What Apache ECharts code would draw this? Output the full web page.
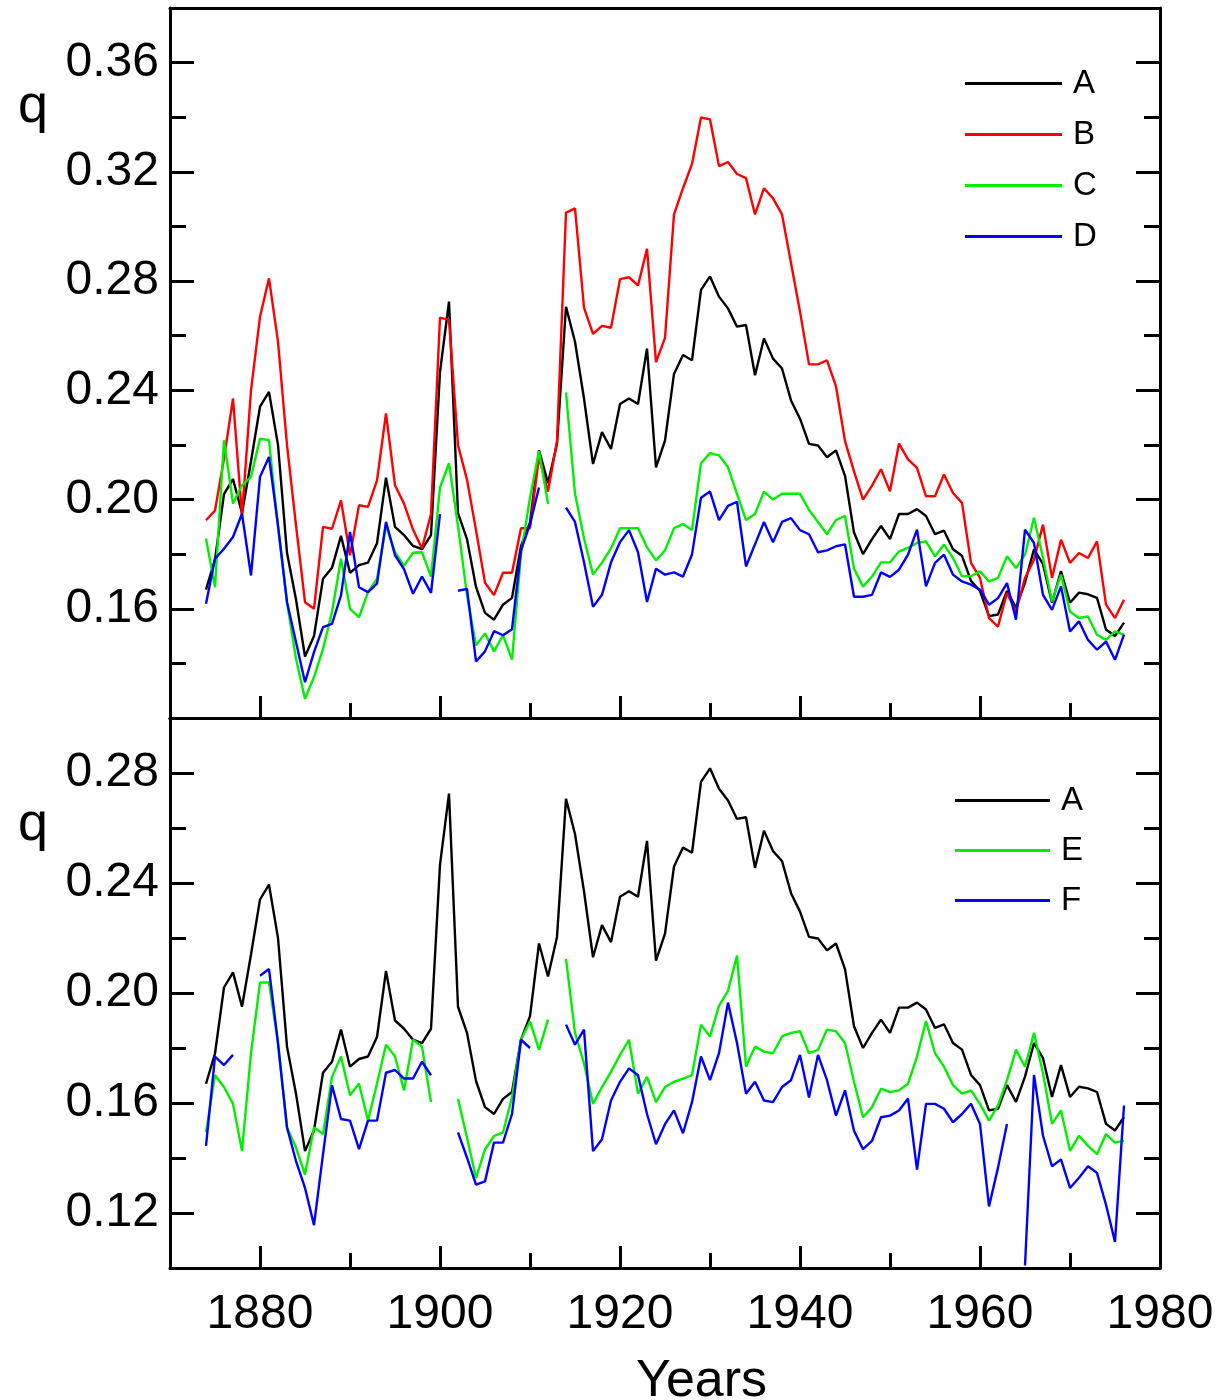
<!DOCTYPE html>
<html>
<head>
<meta charset="utf-8">
<script src="https://cdn.jsdelivr.net/npm/echarts@6/dist/echarts.min.js"></script>
<style>
  html, body { margin: 0; padding: 0; background: #fff; }
  #chart { width: 1218px; height: 1400px; }
</style>
</head>
<body>
<div id="chart"></div>
<script>
// Yearly observations, 1874 - 1976
const years = [
  1874,1875,1876,1877,1878,1879,1880,1881,1882,1883,1884,1885,1886,1887,1888,1889,
  1890,1891,1892,1893,1894,1895,1896,1897,1898,1899,1900,1901,1902,1903,1904,1905,
  1906,1907,1908,1909,1910,1911,1912,1913,1914,1915,1916,1917,1918,1919,1920,1921,
  1922,1923,1924,1925,1926,1927,1928,1929,1930,1931,1932,1933,1934,1935,1936,1937,
  1938,1939,1940,1941,1942,1943,1944,1945,1946,1947,1948,1949,1950,1951,1952,1953,
  1954,1955,1956,1957,1958,1959,1960,1961,1962,1963,1964,1965,1966,1967,1968,1969,
  1970,1971,1972,1973,1974,1975,1976
];

// q values per series (null = no data for that year)
const seriesA = [
  0.167,0.178,0.202,0.2075,0.195,0.214,0.234,0.2394,0.22,0.1805,0.1634,0.1425,0.150,0.171,0.175,0.1867,
  0.1732,0.176,0.1769,0.184,0.208,0.190,0.187,0.183,0.1818,0.187,0.2467,0.2725,0.195,0.1855,0.168,0.1585,
  0.156,0.1615,0.164,0.183,0.1916,0.218,0.206,0.2204,0.2706,0.2578,0.237,0.213,0.2247,0.2185,0.235,0.237,
  0.235,0.2553,0.2118,0.2216,0.246,0.2529,0.251,0.2768,0.2817,0.2743,0.270,0.2633,0.2639,0.2455,0.259,0.2516,
  0.248,0.2363,0.2296,0.2204,0.2198,0.2155,0.218,0.2087,0.1879,0.180,0.1855,0.1903,0.1855,0.1947,0.1947,0.1965,
  0.194,0.1873,0.1886,0.1818,0.1794,0.1702,0.1665,0.1573,0.1579,0.1665,0.1604,0.1696,0.1818,0.1763,0.1622,0.1738,
  0.1622,0.1659,0.1653,0.164,0.1524,0.150,0.1549
];
const seriesB = [
  0.1924,0.196,0.215,0.237,0.194,0.240,0.2669,0.281,0.2578,0.2199,0.1905,0.1624,0.160,0.190,0.1893,0.1997,
  0.1796,0.1979,0.1973,0.207,0.2315,0.2052,0.1985,0.189,0.1821,0.1947,0.2666,0.2658,0.2199,0.2073,0.1888,0.1695,
  0.165,0.1732,0.1732,0.1895,0.1895,0.2155,0.2029,0.2214,0.3051,0.3066,0.2703,0.2607,0.2636,0.2629,0.2807,0.2814,
  0.2784,0.2918,0.2503,0.2592,0.3044,0.314,0.3229,0.3399,0.3392,0.3221,0.3236,0.3192,0.3177,0.3044,0.314,0.3103,
  0.3044,0.2866,0.2688,0.2495,0.2495,0.251,0.2414,0.2214,0.2103,0.200,0.2051,0.2111,0.203,0.2205,0.2147,0.2116,
  0.2012,0.2012,0.2092,0.2024,0.1988,0.1768,0.1713,0.1566,0.1535,0.1658,0.159,0.1713,0.178,0.1908,0.1713,0.1853,
  0.1768,0.1804,0.1786,0.1847,0.1615,0.1566,0.1633
];
const seriesC = [
  0.1857,0.1679,0.2217,0.1985,0.2052,0.2083,0.2223,0.2217,0.190,0.1624,0.1417,0.127,0.135,0.1453,0.1588,0.1783,
  0.160,0.1569,0.1661,0.171,0.1905,0.1808,0.1757,0.1805,0.1807,0.1718,0.2044,0.2133,0.1903,0.165,0.1466,0.151,
  0.1444,0.1503,0.1414,0.1799,0.2007,0.2177,0.1984,null,0.2392,0.2021,0.1858,0.1725,0.1769,0.1821,0.1895,0.1895,
  0.1895,0.1825,0.1777,0.1814,0.1895,0.191,0.1888,0.2133,0.217,0.2162,0.2118,0.2021,0.1925,0.1947,0.2029,0.200,
  0.2021,0.2021,0.2021,0.1962,0.1918,0.1873,0.1925,0.194,0.1747,0.1681,0.1718,0.177,0.177,0.181,0.1823,0.1841,
  0.1847,0.1792,0.1835,0.1786,0.1719,0.1719,0.1737,0.170,0.1713,0.1792,0.1749,0.1798,0.1933,0.1786,0.1627,0.1725,
  0.159,0.1566,0.1572,0.1505,0.1486,0.1517,0.1505
];
const seriesD = [
  0.1618,0.1783,0.182,0.1863,0.1948,0.1722,0.2083,0.2156,0.1905,0.1624,0.1478,0.1331,0.1441,0.1533,0.1545,0.1649,
  0.1881,0.1679,0.1661,0.1692,0.1918,0.1796,0.1745,0.1655,0.1718,0.1658,0.1947,null,0.1666,0.1673,0.1407,0.1444,
  0.1518,0.1503,0.1525,0.1814,0.191,0.2044,null,null,0.197,0.1918,0.177,0.1607,0.1651,0.177,0.1844,0.1888,
  0.1807,0.1625,0.1747,0.1725,0.1733,0.1718,0.1799,0.2007,0.2029,0.1925,0.1977,0.1992,0.1755,0.1836,0.1918,0.1844,
  0.1918,0.1932,0.1888,0.1873,0.1807,0.1814,0.1829,0.1836,0.1644,0.1644,0.1651,0.1733,0.1717,0.1743,0.1798,0.189,
  0.1682,0.1768,0.1798,0.1725,0.170,0.1688,0.167,0.1615,0.1639,0.1694,0.156,0.189,0.1841,0.1651,0.1596,0.1682,
  0.1517,0.1554,0.1486,0.145,0.148,0.1413,0.1505
];
const seriesE = [
  0.1493,0.1701,0.1658,0.1597,0.1425,0.1781,0.2038,0.2038,0.1818,0.1511,0.1438,0.134,0.1511,0.1487,0.1695,0.1769,
  0.1628,0.1671,0.1536,0.1671,0.1812,0.1769,0.1646,0.183,0.1805,0.1603,null,null,0.1615,0.1474,0.1327,0.1431,
  0.148,0.1493,0.1621,0.183,0.1897,0.1793,0.1903,null,0.2124,0.1855,0.1744,0.1597,0.1658,0.1713,0.1775,0.183,
  0.1634,0.1695,0.1603,0.1658,0.1677,0.1689,0.1701,0.1885,0.1842,0.1953,0.2008,0.2136,0.1732,0.1805,0.1787,0.1781,
  0.1842,0.1855,0.1861,0.1781,0.1793,0.1867,0.1861,0.1818,0.1677,0.1548,0.1585,0.1652,0.164,0.1646,0.167,0.1769,
  0.1898,0.1781,0.1732,0.1665,0.1634,0.1646,0.1597,0.1536,0.1591,0.1683,0.1794,0.1732,0.1855,0.1708,0.1524,0.1573,
  0.1426,0.1481,0.1444,0.1414,0.1487,0.1456,0.1463
];
const seriesF = [
  0.1444,0.1769,0.1738,0.1775,null,null,0.2063,0.2087,0.1818,0.1511,0.1389,0.1291,0.1156,0.1413,0.1664,0.1542,
  0.1536,0.1432,0.1536,0.1536,0.171,0.172,0.1689,0.1689,0.175,0.1701,null,null,0.1493,0.1401,0.1303,0.1315,
  0.1456,0.1456,0.156,0.183,0.180,null,null,null,0.1885,0.1812,0.1867,0.1425,0.1468,0.1609,0.1677,0.1726,
  0.1701,0.156,0.145,0.1523,0.1573,0.149,0.1603,0.1769,0.1683,0.1781,0.1965,0.1818,0.1634,0.1677,0.1609,0.1603,
  0.1658,0.1683,0.1775,0.162,0.1775,0.1683,0.1554,0.1646,0.1499,0.1432,0.1462,0.1548,0.1554,0.1573,0.1616,0.1358,
  0.1597,0.1597,0.1579,0.153,0.156,0.1597,0.1524,0.1224,0.1365,0.1524,null,0.1009,0.1702,0.1481,0.137,0.1395,
  0.1291,0.1328,0.137,0.1346,0.123,0.1095,0.1591
];

// Axis ticks and labels
const xMajorTicks = [1880, 1900, 1920, 1940, 1960];
const xMinorTicks = [1890, 1910, 1930, 1950, 1970];
const xLabels = [1880, 1900, 1920, 1940, 1960, 1980];
const topMajorTicks = [0.16, 0.20, 0.24, 0.28, 0.32, 0.36];
const topMinorTicks = [0.14, 0.18, 0.22, 0.26, 0.30, 0.34];
const bottomMajorTicks = [0.12, 0.16, 0.20, 0.24, 0.28];
const bottomMinorTicks = [0.14, 0.18, 0.22, 0.26];

const topLegend = ['A', 'B', 'C', 'D'];
const bottomLegend = ['A', 'E', 'F'];

const FONT = 'Liberation Sans';
const INK = '#000';
const COLORS = { A: '#000000', B: '#ff0000', C: '#00f000', D: '#0000ff', E: '#00f000', F: '#0000ff' };

const frameLine = { show: true, onZero: false, lineStyle: { color: INK, width: 3 } };
const noLine = { show: false, onZero: false };

function tickStyle(len, values) {
  return { show: true, inside: true, length: len, customValues: values, lineStyle: { color: INK, width: 3 } };
}

function xAxesFor(gridIndex, withLabels) {
  return [
    {
      gridIndex, type: 'value', min: 1870, max: 1980, position: 'bottom',
      axisLine: frameLine, splitLine: { show: false },
      axisTick: tickStyle(22, xMajorTicks),
      axisLabel: withLabels ? {
        show: true, customValues: xLabels, formatter: v => String(v),
        fontFamily: FONT, fontSize: 48, color: INK, margin: 23
      } : { show: false }
    },
    {
      gridIndex, type: 'value', min: 1870, max: 1980, position: 'bottom',
      axisLine: noLine, splitLine: { show: false },
      axisTick: tickStyle(15, xMinorTicks), axisLabel: { show: false }
    },
    {
      gridIndex, type: 'value', min: 1870, max: 1980, position: 'top',
      axisLine: frameLine, splitLine: { show: false },
      axisTick: { show: false }, axisLabel: { show: false }
    }
  ];
}

function yAxesFor(gridIndex, min, max, majors, minors) {
  const base = { gridIndex, type: 'value', min, max, splitLine: { show: false } };
  return [
    Object.assign({}, base, {
      position: 'left', axisLine: frameLine, axisTick: tickStyle(24, majors),
      axisLabel: {
        show: true, customValues: majors, formatter: v => v.toFixed(2),
        fontFamily: FONT, fontSize: 48, color: INK, margin: 11
      }
    }),
    Object.assign({}, base, {
      position: 'left', axisLine: noLine, axisTick: tickStyle(16, minors), axisLabel: { show: false }
    }),
    Object.assign({}, base, {
      position: 'right', axisLine: frameLine, axisTick: tickStyle(24, majors), axisLabel: { show: false }
    }),
    Object.assign({}, base, {
      position: 'right', axisLine: noLine, axisTick: tickStyle(16, minors), axisLabel: { show: false }
    })
  ];
}

function pairs(values) {
  return values.map((v, i) => [years[i], v]);
}

function lineSeries(name, values, xIdx, yIdx) {
  return {
    name, type: 'line', xAxisIndex: xIdx, yAxisIndex: yIdx,
    data: pairs(values), symbol: 'none', connectNulls: false,
    lineStyle: { color: COLORS[name], width: 2.4 }, itemStyle: { color: COLORS[name] },
    emphasis: { disabled: true }
  };
}

const legendText = { fontFamily: FONT, fontSize: 33, color: INK, lineHeight: 33, padding: [0, 0, 0, 6] };

const option = {
  animation: false,
  backgroundColor: '#fff',
  grid: [
    { left: 170, top: 8, width: 990, height: 710, containLabel: false },
    { left: 170, top: 718, width: 990, height: 550, containLabel: false }
  ],
  xAxis: [].concat(xAxesFor(0, false), xAxesFor(1, true)),
  yAxis: [].concat(
    yAxesFor(0, 0.12, 0.38, topMajorTicks, topMinorTicks),
    yAxesFor(1, 0.10, 0.30, bottomMajorTicks, bottomMinorTicks)
  ),
  legend: [
    {
      data: topLegend, orient: 'vertical', left: 960, top: 62,
      icon: 'rect', itemWidth: 97, itemHeight: 3, itemGap: 18,
      textStyle: legendText, selectedMode: false
    },
    {
      data: bottomLegend, orient: 'vertical', left: 950, top: 779,
      icon: 'rect', itemWidth: 95, itemHeight: 3, itemGap: 17,
      textStyle: legendText, selectedMode: false
    }
  ],
  graphic: [
    { type: 'text', left: 18, top: 80, style: { text: 'q', font: '54px "Liberation Sans"', fill: INK } },
    { type: 'text', left: 18, top: 798, style: { text: 'q', font: '54px "Liberation Sans"', fill: INK } },
    { type: 'text', left: 636, top: 1356, style: { text: 'Years', font: '52px "Liberation Sans"', fill: INK } }
  ],
  series: [
    lineSeries('A', seriesA, 0, 0),
    lineSeries('B', seriesB, 0, 0),
    lineSeries('C', seriesC, 0, 0),
    lineSeries('D', seriesD, 0, 0),
    lineSeries('A', seriesA, 3, 4),
    lineSeries('E', seriesE, 3, 4),
    lineSeries('F', seriesF, 3, 4)
  ]
};

const chart = echarts.init(document.getElementById('chart'), null, { renderer: 'canvas' });
chart.setOption(option);
</script>
</body>
</html>
